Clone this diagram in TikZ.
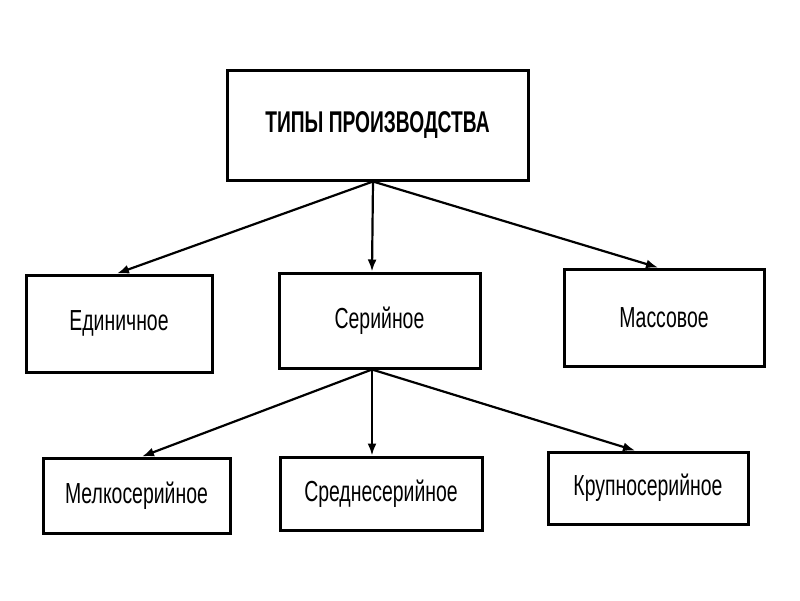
\documentclass[tikz,border=0pt]{standalone}
\usepackage{fontspec}
\usepackage{graphicx}
\setmainfont{Liberation Sans}
\usetikzlibrary{arrows.meta}
\newcommand\sqz[1]{\scalebox{0.67}[1]{#1}}
\tikzset{
  box/.style={draw, line width=3pt, rectangle, fill=white, inner sep=0pt,
    font=\fontsize{29}{32}\selectfont},
  arr/.style={line width=2.2pt, -{Latex[length=12pt,width=9pt]}}
}
\begin{document}
\begin{tikzpicture}[x=1pt,y=-1pt]
\fill[white] (0,0) rectangle (800,600);
\useasboundingbox (0,0) rectangle (800,600);
\node[box, minimum width=301pt, minimum height=110pt, font=\fontsize{30}{32}\selectfont\bfseries] (top) at (377.5,125) {\scalebox{0.64}[1]{ТИПЫ ПРОИЗВОДСТВА}};
\node[box, minimum width=186pt, minimum height=97pt] (ed) at (119,323.5) {\sqz{Единичное}};
\node[box, minimum width=201pt, minimum height=95pt] (ser) at (379.5,320.5) {\sqz{Серийное}};
\node[box, minimum width=200pt, minimum height=97pt] (mas) at (664,317.5) {\sqz{Массовое}};
\node[box, minimum width=187pt, minimum height=75pt] (mel) at (136.5,495.5) {\sqz{Мелкосерийное}};
\node[box, minimum width=202pt, minimum height=73pt] (sred) at (381,493.5) {\sqz{Среднесерийное}};
\node[box, minimum width=200pt, minimum height=72pt] (krup) at (648,488) {\sqz{Крупносерийное}};
\draw[arr] ([xshift=-4.5pt]top.south) -- ([xshift=-2pt]ed.north);
\draw[arr] ([xshift=-4.5pt]top.south) -- ([xshift=-7.5pt]ser.north);
\draw[arr] ([xshift=-4.5pt]top.south) -- ([xshift=-6pt]mas.north);
\draw[arr] ([xshift=-7.5pt]ser.south) -- ([xshift=5.5pt]mel.north);
\draw[arr] ([xshift=-7.5pt]ser.south) -- ([xshift=-9pt]sred.north);
\draw[arr] ([xshift=-7.5pt]ser.south) -- ([xshift=-13pt]krup.north);
\end{tikzpicture}
\end{document}
